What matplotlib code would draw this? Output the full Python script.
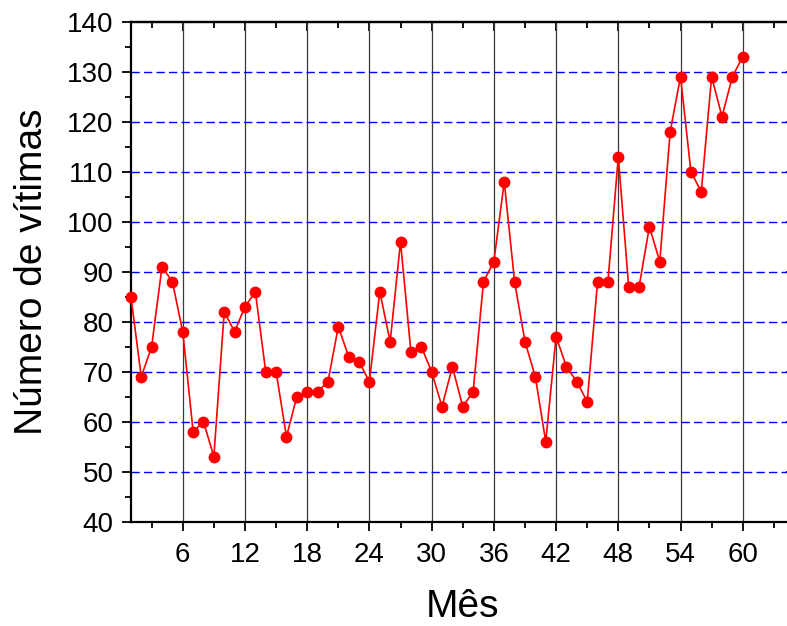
import matplotlib
matplotlib.use("Agg")
import matplotlib.pyplot as plt
from matplotlib.ticker import MultipleLocator

plt.rcParams['font.family'] = ['Liberation Sans', 'DejaVu Sans']
plt.rcParams['lines.scale_dashes'] = False

months = list(range(1, 61))
victims = [85, 69, 75, 91, 88, 78, 58, 60, 53, 82,
           78, 83, 86, 70, 70, 57, 65, 66, 66, 68,
           79, 73, 72, 68, 86, 76, 96, 74, 75, 70,
           63, 71, 63, 66, 88, 92, 108, 88, 76, 69,
           56, 77, 71, 68, 64, 88, 88, 113, 87, 87,
           99, 92, 118, 129, 110, 106, 129, 121, 129, 133]
x_ticks = [6, 12, 18, 24, 30, 36, 42, 48, 54, 60]
y_ticks = [40, 50, 60, 70, 80, 90, 100, 110, 120, 130, 140]
x_label = "Mês"
y_label = "Número de vítimas"

W, H = 787, 626
fig = plt.figure(figsize=(W / 100, H / 100), dpi=100)
left_px, right_px, top_px, bot_px = 130.9, 794.6, 21.7, 521.7
ax = fig.add_axes([left_px / W, (H - bot_px) / H,
                   (right_px - left_px) / W, (bot_px - top_px) / H])

ax.set_xlim(1, 65)
ax.set_ylim(40, 140)

# grids
for xv in x_ticks:
    ax.axvline(xv, color='#3a3a3a', lw=0.9, zorder=1)
for yv in y_ticks[1:-1]:
    ax.axhline(yv, color='#0000ff', lw=1.0, ls=(0, (6, 3)), zorder=1)

ax.plot(months, victims, color='#ff0000', lw=1.2, marker='o',
        markersize=7.5, markerfacecolor='#ff0000', markeredgecolor='#ff0000',
        zorder=3, clip_on=False)

ax.set_xticks(x_ticks)
ax.set_yticks(y_ticks)
ax.xaxis.set_minor_locator(MultipleLocator(3))
ax.yaxis.set_minor_locator(MultipleLocator(5))
ax.tick_params(which='major', direction='out', length=6.5, width=1.3,
               labelsize=20, color='black')
ax.tick_params(which='minor', direction='out', length=4, width=1.3)
ax.tick_params(axis='x', which='major', pad=8)
ax.tick_params(axis='y', which='major', pad=6)

for s in ax.spines.values():
    s.set_linewidth(1.6)

# mirrored inward ticks on top and right
top = ax.secondary_xaxis('top')
top.set_xticks(x_ticks)
top.xaxis.set_minor_locator(MultipleLocator(3))
top.tick_params(which='major', direction='in', length=6.5, width=1.3, labeltop=False)
top.tick_params(which='minor', direction='in', length=4, width=1.3)
top.spines['top'].set_linewidth(1.6)
right = ax.secondary_yaxis('right')
right.set_yticks(y_ticks)
right.yaxis.set_minor_locator(MultipleLocator(5))
right.tick_params(which='major', direction='in', length=6.5, width=1.3, labelright=False)
right.tick_params(which='minor', direction='in', length=4, width=1.3)

ax.set_xlabel(x_label, fontsize=28, labelpad=15)
ax.set_ylabel(y_label, fontsize=28, labelpad=12)

fig.savefig("out.png", dpi=100)
